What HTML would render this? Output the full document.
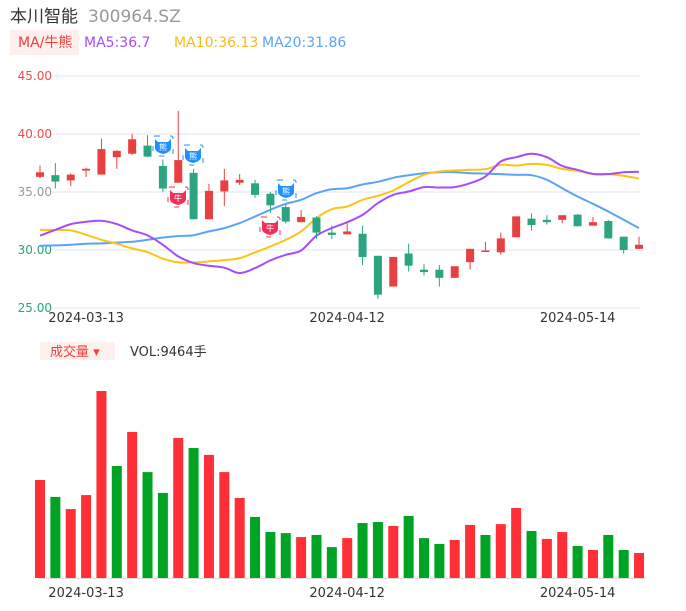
<!DOCTYPE html>
<html><head><meta charset="utf-8">
<style>
body{margin:0;background:#fff;width:686px;height:606px;overflow:hidden;font-family:"Liberation Sans","Noto Sans CJK SC",sans-serif;}
svg text{font-family:"DejaVu Sans","Noto Sans CJK SC",sans-serif;}
</style></head>
<body>
<svg id="chart" width="686" height="606" xmlns="http://www.w3.org/2000/svg">
  <text x="10" y="22" font-size="17" fill="#333">本川智能</text>
  <text x="88" y="22" font-size="17" fill="#999">300964.SZ</text>
  <rect x="10" y="30" width="69" height="25" fill="#fdf0ec"/>
  <text x="18" y="47" font-size="14" fill="#f23d3d">MA/牛熊</text>
  <text x="84" y="47" font-size="14" fill="#a64dfb">MA5:36.7</text>
  <text x="174" y="47" font-size="14" fill="#fdb914">MA10:36.13</text>
  <text x="262" y="47" font-size="14" fill="#5ba4f5">MA20:31.86</text>
  <g id="grid"></g>
  <g id="mas"></g>
  <g id="candles"></g>
  <g id="signals"></g>
  <rect x="40" y="342" width="75" height="18" fill="#fdf0ec"/>
  <text x="50" y="356" font-size="13" fill="#f23d3d">成交量 ▾</text>
  <text x="130" y="356" font-size="13" fill="#333">VOL:9464手</text>
  <g id="vols"></g>
</svg>
<script>
const dates = ["2024-03-13","2024-04-12","2024-05-14"];
const dateIdx = [3,20,35];
const priceTicks = [45,40,35,30,25];
const open  = [36.3,36.45,36.0,36.85,36.5,38.0,38.3,39.0,37.25,35.8,36.65,32.65,35.05,35.8,35.75,34.85,33.7,32.4,32.8,31.5,31.35,31.4,29.5,26.85,29.7,28.3,28.3,27.6,28.95,29.85,29.8,31.1,32.7,32.6,32.6,33.05,32.1,32.5,31.15,30.1];
const close = [36.7,35.9,36.5,37.0,38.7,38.55,39.55,38.05,35.3,37.75,32.65,35.1,36.0,36.05,34.75,33.85,32.45,32.85,31.5,31.3,31.6,29.4,26.15,29.4,28.65,28.1,27.6,28.6,30.1,29.96,31.0,32.9,32.15,32.4,33.0,32.05,32.4,31.0,30.0,30.45];
const high  = [37.3,37.5,36.6,37.1,39.6,38.6,40.0,39.9,37.8,42.0,37.0,35.7,37.0,36.55,36.05,35.0,33.95,33.45,32.9,32.1,32.3,32.1,29.5,29.4,30.55,28.8,28.7,28.6,30.1,30.7,31.5,32.9,33.15,33.0,33.0,33.1,32.85,32.6,31.15,31.15];
const low   = [36.2,35.3,35.5,36.3,36.5,37.0,38.2,38.0,35.0,35.8,32.65,32.65,33.8,35.6,34.5,33.2,32.3,32.4,30.95,30.95,31.35,28.7,25.8,26.85,28.15,27.8,26.85,27.6,28.3,29.85,29.6,31.1,31.7,32.2,32.3,32.05,32.1,31.0,29.7,30.1];
const ma5  = [31.23,31.74,32.23,32.43,32.52,32.23,31.69,31.26,30.45,29.45,28.87,28.64,28.47,28.01,28.44,29.10,29.59,29.96,31.23,31.89,32.40,33.03,34.04,34.76,35.04,35.42,35.39,35.42,35.76,36.33,37.63,38.00,38.29,38.00,37.25,36.91,36.56,36.54,36.71,36.74];
const ma10 = [31.74,31.72,31.69,31.31,30.88,30.54,30.14,29.82,29.25,28.93,28.93,29.02,29.13,29.30,29.79,30.31,30.88,31.60,32.75,33.52,33.75,34.33,34.67,35.13,35.85,36.48,36.77,36.85,36.91,36.97,37.34,37.28,37.42,37.34,36.99,36.82,36.54,36.54,36.39,36.16];
const ma20 = [30.37,30.40,30.45,30.54,30.57,30.65,30.71,30.88,31.08,31.20,31.28,31.60,31.89,32.32,32.89,33.47,33.98,34.33,34.90,35.24,35.33,35.65,35.88,36.22,36.45,36.62,36.71,36.71,36.62,36.59,36.54,36.48,36.45,36.05,35.33,34.61,33.98,33.32,32.60,31.89];
const volume = [37100,30700,26100,31400,70800,42400,55300,40100,32200,53000,49200,46600,40100,30300,23100,17400,17000,15500,16300,11700,15100,20800,21200,19700,23500,15100,12900,14400,20100,16300,20400,26500,17800,14800,17400,12100,10600,16300,10600,9464];
const volUp = [1,0,1,1,1,0,1,0,0,1,0,1,1,1,0,0,0,1,0,0,1,0,0,1,0,0,0,1,1,0,1,1,0,1,1,0,1,0,0,1];
const volMax = 70800;

const NS="http://www.w3.org/2000/svg";
const xS = i => 40 + i*15.36;
const yP = p => 76 + (45-p)*11.6;
const yV = v => 578 - v/volMax*187;
function mk(tag, attrs, parent){const e=document.createElementNS(NS,tag);for(const k in attrs)e.setAttribute(k,attrs[k]);parent.appendChild(e);return e;}
const grid=document.getElementById('grid');
const tickColors={45:"#f04a4a",40:"#f04a4a",35:"#999",30:"#2aa37f",25:"#2aa37f"};
priceTicks.forEach(t=>{
  const l=mk('line',{x1:52,x2:640,y1:yP(t),y2:yP(t),stroke:"#dfe4f2","stroke-width":1},grid);
  
  
  const tx=mk('text',{x:52,y:yP(t)+4,"text-anchor":"end","font-size":12,fill:tickColors[t]},grid);
  tx.textContent=t.toFixed(2);
  
  
});
dates.forEach((d,k)=>{
  [322,597].forEach(y=>{
    const tx=mk('text',{x:xS(dateIdx[k]),y:y,"text-anchor":"middle","font-size":13,fill:"#333"},grid);
    tx.textContent=d;
    
    
  });
});
function smooth(arr){
  const pts=arr.map((v,i)=>[xS(i),yP(v)]);
  let d="M"+pts[0][0].toFixed(1)+" "+pts[0][1].toFixed(1);
  for(let i=0;i<pts.length-1;i++){
    const p0=pts[Math.max(0,i-1)],p1=pts[i],p2=pts[i+1],p3=pts[Math.min(pts.length-1,i+2)];
    const c1=[p1[0]+(p2[0]-p0[0])/6,p1[1]+(p2[1]-p0[1])/6];
    const c2=[p2[0]-(p3[0]-p1[0])/6,p2[1]-(p3[1]-p1[1])/6];
    d+=` C${c1[0].toFixed(1)} ${c1[1].toFixed(1)} ${c2[0].toFixed(1)} ${c2[1].toFixed(1)} ${p2[0].toFixed(1)} ${p2[1].toFixed(1)}`;
  }
  return d;
}
const mas=document.getElementById('mas');
[[ma20,"#5ba4f5","ma20-line"],[ma10,"#fdc414","ma10-line"],[ma5,"#a64dfb","ma5-line"]].forEach(([arr,c,n])=>{
  const p=mk('path',{d:smooth(arr),fill:"none",stroke:c,"stroke-width":2,"stroke-linejoin":"round"},mas);
  
  
});
const cg=document.getElementById('candles');
open.forEach((o,i)=>{
  const c=close[i], up=c>=o, col=up?"#e84040":"#2ba57f";
  const g=mk('g',{},cg);
  
  
  mk('line',{x1:xS(i),x2:xS(i),y1:yP(high[i]),y2:yP(low[i]),stroke:col,"stroke-width":1},g);
  const top=yP(Math.max(o,c)), h=Math.max(1.5,Math.abs(yP(o)-yP(c)));
  mk('rect',{x:xS(i)-4,y:top,width:8,height:h,fill:col},g);
});
const vg=document.getElementById('vols');
mk('line',{x1:38,x2:645,y1:578.5,y2:578.5,stroke:"#ddd"},vg);
volume.forEach((v,i)=>{
  const r=mk('rect',{x:xS(i)-5,y:yV(v),width:10,height:578-yV(v),fill:volUp[i]?"#fe2f36":"#00a424"},vg);
  
  
});
const sg=document.getElementById('signals');
[[163,146,"熊","#1e90ff"],[193,155,"熊","#1e90ff"],[286,190,"熊","#1e90ff"],[178,197,"牛","#f0305a"],[270,227,"牛","#f0305a"]].forEach(([x,y,t,c])=>{
  const g=mk('g',{},sg);
  
  
  mk('rect',{x:x-10,y:y-10,width:20,height:20,fill:"none",stroke:c,"stroke-width":1,"stroke-dasharray":"5 10",rx:2},g);
  mk('path',{d:`M${x-8} ${y-7} L${x-5} ${y-4} H${x+5} L${x+8} ${y-7} V${y+2} Q${x+8} ${y+6} ${x} ${y+8} Q${x-8} ${y+6} ${x-8} ${y+2} Z`,fill:c},g);
  const tx=mk('text',{x:x,y:y+4,"text-anchor":"middle","font-size":8,fill:"#fff"},g);
  tx.textContent=t;
});
</script>
</body></html>
